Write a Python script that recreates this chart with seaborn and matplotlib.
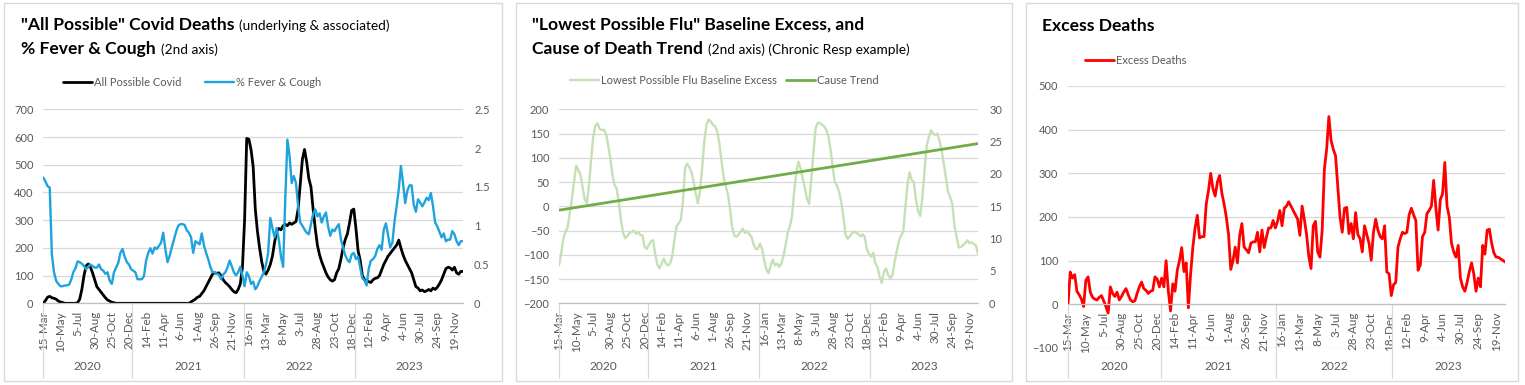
import numpy as np
import pandas as pd
import seaborn as sns
import matplotlib.pyplot as plt
from matplotlib.lines import Line2D
from matplotlib.patches import Rectangle
from matplotlib.transforms import blended_transform_factory

# weekly series, week ending dates
weeks = pd.date_range('2020-03-15', periods=197, freq='7D')

covid_deaths = [
    0, 10, 22, 25, 20, 18, 15, 8, 5, 3,
    0, 0, 0, 0, 0, 0, 2, 15, 50, 100,
    135, 142, 130, 110, 85, 60, 50, 40, 30, 20,
    12, 8, 4, 2, 0, 0, 0, 0, 0, 0,
    0, 0, 0, 0, 0, 0, 0, 0, 0, 0,
    0, 0, 0, 0, 0, 0, 0, 0, 0, 0,
    0, 0, 0, 0, 0, 0, 0, 0, 0, 5,
    10, 15, 22, 25, 35, 45, 60, 75, 90, 105,
    110, 108, 110, 100, 85, 75, 68, 60, 50, 42,
    38, 50, 70, 130, 300, 595, 592, 555, 494, 340,
    260, 200, 150, 115, 105, 120, 140, 170, 220, 260,
    270, 265, 280, 285, 280, 290, 285, 290, 295, 340,
    430, 520, 555, 510, 450, 420, 340, 270, 210, 175,
    150, 130, 110, 95, 85, 80, 85, 110, 125, 160,
    200, 230, 250, 290, 335, 340, 270, 190, 155, 100,
    85, 82, 78, 75, 85, 90, 92, 100, 120, 140,
    155, 170, 180, 190, 200, 210, 228, 200, 175, 155,
    140, 125, 110, 85, 60, 55, 45, 48, 42, 45,
    50, 45, 55, 50, 58, 70, 85, 105, 125, 130,
    128, 120, 130, 110, 105, 115, 115,
]

fever_cough = [
    1.62, 1.57, 1.51, 1.49, 0.63, 0.40, 0.29, 0.25, 0.22, 0.22,
    0.23, 0.23, 0.24, 0.30, 0.40, 0.45, 0.54, 0.53, 0.51, 0.48,
    0.44, 0.47, 0.50, 0.48, 0.46, 0.46, 0.50, 0.44, 0.42, 0.38,
    0.40, 0.29, 0.25, 0.40, 0.46, 0.52, 0.65, 0.70, 0.60, 0.53,
    0.50, 0.44, 0.42, 0.40, 0.31, 0.31, 0.31, 0.35, 0.55, 0.65,
    0.71, 0.64, 0.72, 0.70, 0.74, 0.78, 0.91, 0.70, 0.53, 0.61,
    0.72, 0.82, 0.92, 1.00, 1.02, 1.02, 1.01, 0.94, 0.91, 0.85,
    0.65, 0.80, 0.78, 0.76, 0.90, 0.75, 0.65, 0.57, 0.47, 0.40,
    0.40, 0.38, 0.37, 0.31, 0.37, 0.40, 0.46, 0.55, 0.48, 0.40,
    0.36, 0.40, 0.47, 0.36, 0.22, 0.40, 0.35, 0.25, 0.28, 0.18,
    0.22, 0.29, 0.34, 0.40, 0.50, 0.65, 1.10, 0.97, 0.85, 0.97,
    0.82, 0.60, 0.47, 1.34, 2.11, 1.90, 1.55, 1.64, 1.55, 1.25,
    1.04, 1.00, 0.95, 0.91, 0.89, 1.02, 1.15, 1.21, 1.12, 1.16,
    1.04, 1.12, 1.17, 0.99, 0.87, 0.95, 0.93, 0.98, 1.02, 0.82,
    0.72, 0.62, 0.56, 0.53, 0.63, 0.65, 0.57, 0.60, 0.46, 0.32,
    0.30, 0.23, 0.45, 0.55, 0.57, 0.61, 0.70, 0.75, 0.69, 0.95,
    1.03, 0.88, 0.72, 0.78, 1.05, 1.25, 1.47, 1.77, 1.55, 1.29,
    1.45, 1.52, 1.52, 1.27, 1.18, 1.34, 1.30, 1.25, 1.30, 1.36,
    1.33, 1.42, 1.25, 1.04, 0.99, 0.92, 0.85, 0.90, 0.80, 0.82,
    0.82, 0.93, 0.89, 0.80, 0.75, 0.80, 0.80,
]

flu_baseline_excess = [
    -122, -98, -68, -52, -45, -15, 15, 50, 84, 75,
    66, 40, 15, 6, 42, 95, 143, 166, 171, 160,
    157, 158, 150, 125, 100, 65, 44, 36, 8, -30,
    -55, -66, -61, -55, -53, -50, -57, -53, -59, -60,
    -83, -88, -80, -72, -70, -98, -120, -128, -118, -108,
    -118, -122, -118, -102, -68, -41, -35, -28, 10, 80,
    88, 80, 70, 50, 25, 6, 33, 81, 135, 168,
    179, 175, 168, 165, 155, 130, 95, 60, 42, 25,
    -5, -43, -60, -63, -58, -52, -46, -55, -51, -58,
    -62, -78, -88, -88, -77, -88, -112, -130, -138, -122,
    -110, -122, -118, -125, -118, -102, -80, -54, -41, -20,
    30, 70, 92, 78, 58, 38, 15, 5, 55, 110,
    160, 172, 172, 168, 165, 158, 145, 118, 81, 50,
    43, 30, 10, -20, -58, -67, -62, -56, -52, -55,
    -57, -62, -58, -63, -88, -98, -104, -96, -118, -125,
    -145, -158, -135, -128, -142, -148, -142, -115, -92, -72,
    -60, -53, -5, 45, 70, 54, 50, 12, -10, -20,
    20, 75, 125, 143, 157, 150, 147, 150, 135, 115,
    88, 58, 30, 18, 5, -40, -62, -85, -84, -80,
    -76, -70, -76, -74, -78, -80, -98,
]

# linear cause-of-death trend (2nd axis): first and last week
cause_trend = [14.4, 24.7]

excess_deaths = [
    0, 74, 60, 68, 30, 22, 12, -5, 55, 63,
    28, 16, 12, 10, 16, 20, 8, -5, -20, 40,
    25, 18, 28, 10, 18, 28, 36, 22, 10, 6,
    8, 25, 40, 51, 36, 32, 25, 30, 32, 63,
    58, 40, 60, 40, 100, 30, -15, 47, 30, 78,
    100, 130, 75, 95, -8, 70, 131, 175, 204, 152,
    155, 155, 230, 260, 300, 265, 248, 280, 295, 255,
    230, 200, 160, 80, 100, 131, 95, 158, 185, 131,
    125, 118, 140, 143, 143, 165, 120, 170, 130, 154,
    175, 175, 192, 175, 190, 215, 180, 220, 225, 235,
    225, 215, 205, 195, 158, 225, 195, 160, 110, 82,
    180, 190, 120, 108, 170, 310, 355, 430, 375, 355,
    340, 270, 200, 165, 220, 222, 162, 185, 150, 210,
    160, 150, 120, 180, 160, 140, 101, 165, 195, 170,
    155, 150, 180, 74, 70, 20, 45, 50, 131, 150,
    165, 162, 165, 205, 220, 205, 192, 78, 90, 155,
    165, 208, 215, 225, 284, 220, 170, 240, 253, 325,
    225, 200, 140, 120, 108, 135, 60, 40, 30, 50,
    75, 95, 70, 30, 60, 40, 135, 115, 170, 172,
    140, 118, 108, 108, 104, 101, 97,
]

df = pd.DataFrame({
    'week': np.arange(len(weeks)),
    'covid': covid_deaths,
    'fever': fever_cough,
    'flu': flu_baseline_excess,
    'excess': excess_deaths,
})
trend_df = pd.DataFrame({'week': [0, len(weeks) - 1], 'trend': cause_trend})

sns.set_theme(style='white')
plt.rcParams['font.family'] = ['Lato', 'DejaVu Sans']

GREY = '#595959'
GRID = '#d9d9d9'
BLACK = '#000000'
BLUE = '#1fa3dc'
LIGHT_GREEN = '#c5e0b4'
GREEN = '#70ad47'
RED = '#ff0000'
W, H = 1525, 385

fig = plt.figure(figsize=(W / 100, H / 100), dpi=100)
fig.patch.set_facecolor('white')


def fx(px):
    return px / W


def fy(px):
    return 1 - px / H


def add_axes(left, top, right, bottom):
    return fig.add_axes([fx(left), fy(bottom), (right - left) / W, (bottom - top) / H])


def style_axes(ax, ylim, step, right=None, rlim=None, rstep=None, axis_at=None):
    ax.set_xlim(0, len(weeks) - 1)
    ax.set_ylim(*ylim)
    ax.set_yticks(np.arange(ylim[0], ylim[1] + step / 2, step))
    ax.grid(axis='y', color=GRID, lw=0.9)
    ax.set_axisbelow(True)
    for s in ['left', 'right', 'top']:
        ax.spines[s].set_visible(False)
    ax.spines['bottom'].set_color('#bfbfbf')
    ax.spines['bottom'].set_linewidth(0.9)
    if axis_at is not None:
        ax.spines['bottom'].set_position(('data', axis_at))
    ax.tick_params(axis='y', length=0, labelsize=8, labelcolor=GREY, pad=7)
    ticks = list(range(0, len(weeks), 8))
    ax.set_xticks(ticks)
    ax.set_xticklabels([f"{weeks[i].day}-{weeks[i].strftime('%b')}" for i in ticks],
                       rotation=90)
    ax.tick_params(axis='x', length=0, labelsize=8.4, labelcolor=GREY, pad=5.5)
    ax.set_xlabel('')
    ax.set_ylabel('')
    if right is not None:
        right.set_ylim(*rlim)
        rt = np.arange(rlim[0], rlim[1] + rstep / 2, rstep)
        right.set_yticks(rt)
        right.set_yticklabels([f'{v:g}' for v in rt])
        right.tick_params(axis='y', length=0, labelsize=8, labelcolor=GREY, pad=8)
        right.grid(False)
        for s in right.spines.values():
            s.set_visible(False)
        right.set_ylabel('')


def year_groups(ax, axis_px):
    tr = blended_transform_factory(ax.transData, fig.transFigure)
    years = weeks.year
    labels = []
    for yr in sorted(set(years)):
        idx = np.where(years == yr)[0]
        labels.append((yr, idx[0], idx[-1]))
    starts = [0] + [lab[1] - 0.5 for lab in labels[1:]]
    ends = starts[1:] + [len(weeks) - 1]
    for (yr, _, _), s, e in zip(labels, starts, ends):
        ax.add_line(Line2D([s, s], [fy(axis_px), fy(378)], transform=tr,
                           color=GRID, lw=0.9, clip_on=False))
        ax.text((s + e) / 2, fy(367), str(yr), transform=tr, ha='center', va='center',
                fontsize=8.6, color=GREY)


def title(x, y, bold, small=None):
    t = fig.text(fx(x), fy(y), bold, fontsize=12.6, weight='bold', color='black',
                 va='baseline', ha='left')
    if small:
        fig.canvas.draw()
        bb = t.get_window_extent(renderer=fig.canvas.get_renderer())
        fig.text(bb.x1 / fig.bbox.width + fx(5), fy(y), small, fontsize=9.8,
                 color='black', va='baseline', ha='left')


def legend(ax, x, y, entries, colspace=2.2):
    handles = [Line2D([0], [0], color=c, lw=lw) for _, c, lw in entries]
    ax.legend(handles, [e[0] for e in entries], loc='center left',
              bbox_to_anchor=(fx(x), fy(y)), bbox_transform=fig.transFigure,
              ncol=len(entries), frameon=False, fontsize=8, labelcolor=GREY,
              borderpad=0, borderaxespad=0, handlelength=2.6, handletextpad=0.15,
              columnspacing=colspace)


# panel frames
for left, right in [(4, 502), (516, 1012), (1026, 1518)]:
    fig.add_artist(Rectangle((fx(left), fy(381)), (right - left) / W, 378 / H,
                             transform=fig.transFigure, fill=False, ec=GRID, lw=1))

# panel 1: covid deaths and % fever & cough
ax1 = add_axes(43.3, 109.3, 463, 303.3)
sns.lineplot(data=df, x='week', y='covid', ax=ax1, color=BLACK, lw=2.0)
ax1r = ax1.twinx()
sns.lineplot(data=df, x='week', y='fever', ax=ax1r, color=BLUE, lw=1.7)
style_axes(ax1, (0, 700), 100, ax1r, (0, 2.5), 0.5)
year_groups(ax1, 303.3)
title(21, 30, '"All Possible" Covid Deaths', '(underlying & associated)')
title(21, 54, '% Fever & Cough', '(2nd axis)')
legend(ax1r, 63, 82, [('All Possible Covid', BLACK, 2.0), ('% Fever & Cough', BLUE, 1.7)])

# panel 2: flu baseline excess and cause trend
ax2 = add_axes(559, 109.3, 978, 303.3)
sns.lineplot(data=df, x='week', y='flu', ax=ax2, color=LIGHT_GREEN, lw=1.7)
ax2r = ax2.twinx()
sns.lineplot(data=trend_df, x='week', y='trend', ax=ax2r, color=GREEN, lw=2.0)
style_axes(ax2, (-200, 200), 50, ax2r, (0, 30), 5)
year_groups(ax2, 303.3)
title(532, 30, '"Lowest Possible Flu" Baseline Excess, and')
title(532, 54, 'Cause of Death Trend', '(2nd axis) (Chronic Resp example)')
legend(ax2r, 570, 80, [('Lowest Possible Flu Baseline Excess', LIGHT_GREEN, 1.7),
                       ('Cause Trend', GREEN, 2.0)], colspace=0.9)

# panel 3: excess deaths
ax3 = add_axes(1068, 86, 1505, 348)
sns.lineplot(data=df, x='week', y='excess', ax=ax3, color=RED, lw=2.0)
style_axes(ax3, (-100, 500), 100, axis_at=0)
year_groups(ax3, 304)
title(1042, 31, 'Excess Deaths')
legend(ax3, 1085, 60, [('Excess Deaths', RED, 2.0)])

fig.savefig('out.png', dpi=100, facecolor='white')
